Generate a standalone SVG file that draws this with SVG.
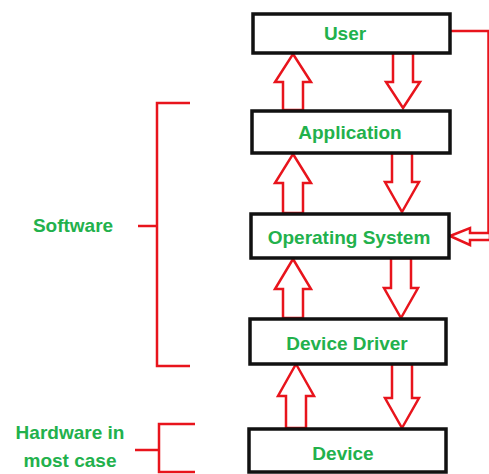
<svg xmlns="http://www.w3.org/2000/svg" width="489" height="474" viewBox="0 0 489 474">
<style>
.box{fill:#fff;stroke:#111;stroke-width:3.5}
.lbl{font-family:"Liberation Sans",Arial,sans-serif;font-weight:bold;font-size:19px;fill:#22b14c;text-anchor:middle;dominant-baseline:central}
.arr{fill:#fff;stroke:#e8141c;stroke-width:2.5;stroke-linejoin:miter}
.ln{fill:none;stroke:#e8141c;stroke-width:2.5}
</style>
<rect width="489" height="474" fill="#fff"/>
<g id="connectors">
<polygon class="arr" points="293,54 311,82 303,82 303,110 283,110 283,82 275,82"/>
<polygon class="arr" points="403,108 420,82 413,82 413,53 393,53 393,82 386,82"/>
<polygon class="arr" points="293,154 311,183 303,183 303,213 283,213 283,183 275,183"/>
<polygon class="arr" points="402,212 419,182 412,182 412,153 392,153 392,182 385,182"/>
<polygon class="arr" points="293,259 311,289 303,289 303,318 283,318 283,289 275,289"/>
<polygon class="arr" points="401,318 418,288 411,288 411,258 391,258 391,288 384,288"/>
<polygon class="arr" points="296,364 314,396 306,396 306,428 286,428 286,396 278,396"/>
<polygon class="arr" points="402,428 419,398 412,398 412,364 392,364 392,398 385,398"/>
<polyline class="ln" points="451,31 488.5,31 488.5,236"/>
<polygon class="arr" points="450,236 470,228 470,233 490,233 490,240 470,240 470,245"/>
</g>
<g id="user"><rect class="box" x="253" y="14" width="197" height="39"/><text class="lbl" x="345" y="33">User</text></g>
<g id="application"><rect class="box" x="252" y="111" width="198" height="42"/><text class="lbl" x="350" y="132">Application</text></g>
<g id="os"><rect class="box" x="251" y="214" width="198" height="44"/><text class="lbl" x="349" y="237">Operating System</text></g>
<g id="driver"><rect class="box" x="250" y="319" width="196" height="45"/><text class="lbl" x="347" y="343">Device Driver</text></g>
<g id="device"><rect class="box" x="249" y="429" width="197" height="43"/><text class="lbl" x="343" y="453">Device</text></g>
<g id="software">
<polyline class="ln" points="190,103 157,103 157,366 190,366"/>
<line class="ln" x1="138" y1="226" x2="157" y2="226"/>
<text class="lbl" x="73" y="225">Software</text>
</g>
<g id="hardware">
<polyline class="ln" points="195,424 159,424 159,472 195,472"/>
<line class="ln" x1="135" y1="450" x2="159" y2="450"/>
<text class="lbl" x="70" y="432">Hardware in</text>
<text class="lbl" x="70" y="460">most case</text>
</g>
</svg>
